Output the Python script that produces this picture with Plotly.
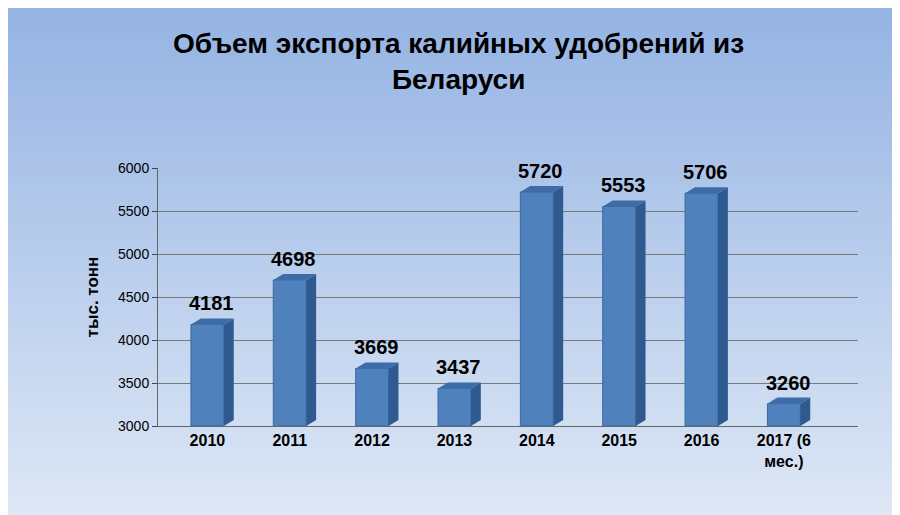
import plotly.graph_objects as go

years = ["2010", "2011", "2012", "2013", "2014", "2015", "2016", "2017 (6<br>мес.)"]
values = [4181, 4698, 3669, 3437, 5720, 5553, 5706, 3260]
base = 3000
xs = list(range(len(values)))
w, d, dy = 0.4, 0.12, 70

fig = go.Figure()
fig.add_trace(go.Bar(x=xs, y=[v - base for v in values], base=base, width=w,
                     marker=dict(color="#4f81bd", line=dict(color="#3a6aa3", width=1)),
                     textposition="none", hoverinfo="skip"))
for x, v in zip(xs, values):
    r = x + w / 2
    l = x - w / 2
    fig.add_trace(go.Scatter(x=[r, r + d, r + d, r, r], y=[base, base + dy, v + dy, v, base],
                             fill="toself", fillcolor="#2f5a8f", line=dict(width=0), mode="lines", hoverinfo="skip"))
    fig.add_trace(go.Scatter(x=[l, l + d, r + d, r, l], y=[v, v + dy, v + dy, v, v],
                             fill="toself", fillcolor="#3d6ca8", line=dict(width=0), mode="lines", hoverinfo="skip"))
    fig.add_annotation(x=x + 0.05, y=v + dy, text=f"<b>{v}</b>", showarrow=False, yanchor="bottom",
                       font=dict(size=20, color="black"), yshift=2)

L, R, T, B = 150, 50, 160, 97
PW, PH = 900 - L - R, 515 - T - B
shapes = []
n = 50
for i in range(n):
    t = i / (n - 1)
    c0, c1 = (150, 180, 228), (222, 232, 246)
    col = tuple(int(c0[k] + (c1[k] - c0[k]) * t) for k in range(3))
    ytop = 1 + T / PH
    ybot = -B / PH
    h = (ytop - ybot) / n
    shapes.append(dict(type="rect", xref="paper", yref="paper", x0=-L / PW - 0.05, x1=1 + R / PW + 0.05,
                       y0=ytop - (i + 1) * h - 0.005, y1=ytop - i * h + 0.005,
                       fillcolor="rgb(%d,%d,%d)" % col, line=dict(width=0), layer="below"))
fig.add_annotation(xref="paper", yref="paper", x=(450 - L) / PW, y=1 + (T - 18) / PH, yanchor="top",
                   text="<b>Объем экспорта калийных удобрений из<br>Беларуси</b>", showarrow=False,
                   font=dict(size=28, color="black"))
fig.update_layout(
    width=900, height=515, showlegend=False,
    margin=dict(l=L, r=R, t=T, b=B),
    paper_bgcolor="#bcd0ee", plot_bgcolor="rgba(0,0,0,0)",
    shapes=shapes,
    font=dict(family="Liberation Sans", color="black"),
    xaxis=dict(tickvals=xs, ticktext=["<b>%s</b>" % y for y in years], range=[-0.6, 7.9],
               tickfont=dict(size=16), showgrid=False, zeroline=False, showline=True, linecolor="#666"),
    yaxis=dict(range=[3000, 6000], dtick=500, tickfont=dict(size=14), gridcolor="#7a7a7a",
               showline=True, linecolor="#666", ticks="outside", ticklen=5, automargin=False,
               title=dict(text="<b>тыс. тонн</b>", font=dict(size=17))),
)
fig.update_xaxes(automargin=False)
fig.write_html("out.html")
